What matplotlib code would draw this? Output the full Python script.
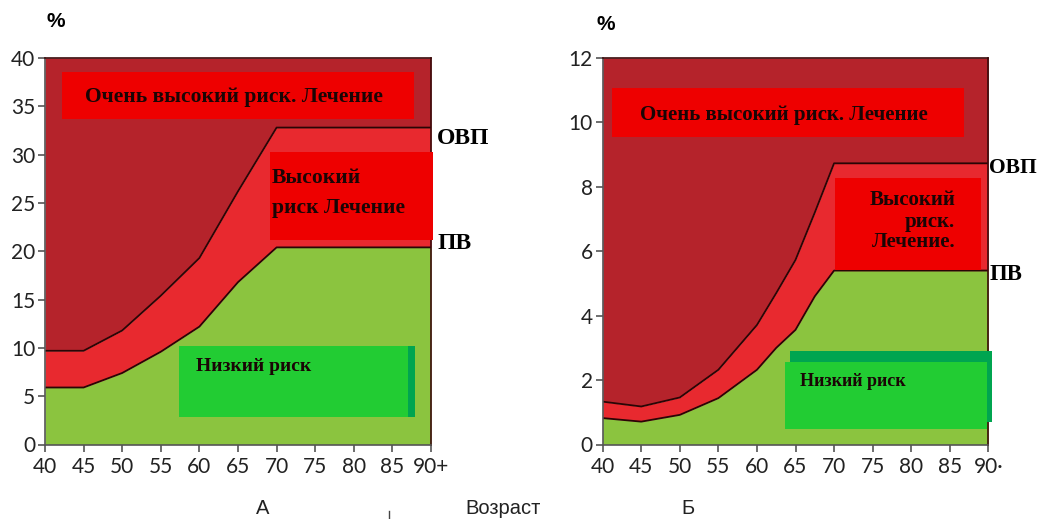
import matplotlib
matplotlib.use("Agg")
import matplotlib.pyplot as plt
from matplotlib.patches import Rectangle
from matplotlib.lines import Line2D

# age grid and risk thresholds (%)
ages_a = [40, 45, 50, 55, 60, 65, 70, 75, 80, 85, 90]
ovp_a = [9.7, 9.7, 11.8, 15.4, 19.3, 26.2, 32.8, 32.8, 32.8, 32.8, 32.8]
pv_a = [5.9, 5.9, 7.4, 9.6, 12.2, 16.8, 20.4, 20.4, 20.4, 20.4, 20.4]

ages_b = [40, 45, 50, 55, 60, 62.5, 65, 67.5, 70, 75, 80, 85, 90]
ovp_b = [1.33, 1.18, 1.46, 2.32, 3.71, 4.7, 5.73, 7.2, 8.73, 8.73, 8.73, 8.73, 8.73]
pv_b = [0.82, 0.71, 0.92, 1.44, 2.32, 3.0, 3.56, 4.6, 5.4, 5.4, 5.4, 5.4, 5.4]

xticks = [40, 45, 50, 55, 60, 65, 70, 75, 80, 85, 90]
xlabels_a = ["40", "45", "50", "55", "60", "65", "70", "75", "80", "85", "90+"]
xlabels_b = ["40", "45", "50", "55", "60", "65", "70", "75", "80", "85", "90·"]

DARK_RED = "#B5232B"
MID_RED = "#E8292F"
BOX_RED = "#EE0000"
FIELD_GREEN = "#8BC43F"
BOX_GREEN = "#22CC33"
EDGE_GREEN = "#00A550"
TXT = "#1a0505"
SERIF = ["Liberation Serif", "DejaVu Serif"]
SANS = ["Lato", "DejaVu Sans"]
ARIAL = ["Liberation Sans", "DejaVu Sans"]


def draw_zones(ax, ages, ovp, pv, ymax):
    ax.fill_between(ages, 0, pv, color=FIELD_GREEN, lw=0)
    ax.fill_between(ages, pv, ovp, color=MID_RED, lw=0)
    ax.fill_between(ages, ovp, ymax, color=DARK_RED, lw=0)
    ax.plot(ages, ovp, color="#2a0505", lw=1.3)
    ax.plot(ages, pv, color="#2a0505", lw=1.3)
    ax.set_xlim(40, 90)
    ax.set_ylim(0, ymax)
    for s in ("left", "bottom"):
        ax.spines[s].set_color("#555555")
        ax.spines[s].set_linewidth(1.2)
    for s in ("top", "right"):
        ax.spines[s].set_color("#3a0a0a")
        ax.spines[s].set_linewidth(1.2)
    ax.tick_params(direction="out", length=5, width=1.2, color="#555555",
                   labelsize=15, labelcolor="#222222")
    ax.tick_params(axis="x", pad=4)
    ax.tick_params(axis="y", pad=2)


def set_tick_font(ax):
    for lab in ax.get_xticklabels() + ax.get_yticklabels():
        lab.set_family(SANS)


def box(ax, x0, y0, x1, y1, color):
    ax.add_patch(Rectangle((x0, y0), x1 - x0, y1 - y0, facecolor=color,
                           edgecolor="none", clip_on=False, zorder=3))


fig = plt.figure(figsize=(10.39, 5.19), dpi=100)
ax_a = fig.add_axes([45 / 1039, 1 - 444.5 / 519, 386 / 1039, 386.5 / 519])
ax_b = fig.add_axes([602.7 / 1039, 1 - 444.5 / 519, 385.6 / 1039, 386.5 / 519])

# --- panel A ---
draw_zones(ax_a, ages_a, ovp_a, pv_a, 40)
ax_a.set_xticks(xticks, xlabels_a)
ax_a.set_yticks(range(0, 41, 5))
set_tick_font(ax_a)

box(ax_a, 42.2, 33.7, 87.8, 38.6, BOX_RED)
ax_a.text(64.5, 36.0, "Очень высокий риск. Лечение", ha="center", va="center",
          family=SERIF, weight="bold", fontsize=15.5, color=TXT, zorder=4)
box(ax_a, 69.1, 21.2, 90.2, 30.3, BOX_RED)
ax_a.text(69.4, 27.6, "Высокий", ha="left", va="center", family=SERIF,
          weight="bold", fontsize=15.5, color=TXT, zorder=4)
ax_a.text(69.4, 24.5, "риск Лечение", ha="left", va="center", family=SERIF,
          weight="bold", fontsize=15.5, color=TXT, zorder=4)
box(ax_a, 57.4, 2.8, 87.9, 10.2, BOX_GREEN)
box(ax_a, 87.0, 2.8, 87.9, 10.2, EDGE_GREEN)
ax_a.text(59.6, 8.05, "Низкий риск", ha="left", va="center", family=SERIF,
          weight="bold", fontsize=14, color=TXT, zorder=4)
ax_a.text(90.8, 31.7, "ОВП", ha="left", va="center", family=SERIF,
          weight="bold", fontsize=17, color="black", clip_on=False)
ax_a.text(90.8, 20.8, "ПВ", ha="left", va="center", family=SERIF,
          weight="bold", fontsize=17, color="black", clip_on=False)

# --- panel B ---
draw_zones(ax_b, ages_b, ovp_b, pv_b, 12)
ax_b.set_xticks(xticks, xlabels_b)
ax_b.set_yticks(range(0, 13, 2))
set_tick_font(ax_b)

box(ax_b, 41.2, 9.55, 86.8, 11.07, BOX_RED)
ax_b.text(63.5, 10.23, "Очень высокий риск. Лечение", ha="center", va="center",
          family=SERIF, weight="bold", fontsize=15, color=TXT, zorder=4)
box(ax_b, 70.1, 5.42, 89.05, 8.28, BOX_RED)
for y, line in zip([7.6, 6.91, 6.29], ["Высокий", "риск.", "Лечение."]):
    ax_b.text(85.7, y, line, ha="right", va="center", family=SERIF,
              weight="bold", fontsize=15, color=TXT, zorder=4)
box(ax_b, 64.3, 2.57, 90.5, 2.91, EDGE_GREEN)
box(ax_b, 89.8, 0.70, 90.5, 2.91, EDGE_GREEN)
box(ax_b, 63.6, 0.49, 89.8, 2.57, BOX_GREEN)
ax_b.text(65.6, 1.95, "Низкий риск", ha="left", va="center", family=SERIF,
          weight="bold", fontsize=13, color=TXT, zorder=4)
ax_b.text(90.15, 8.59, "ОВП", ha="left", va="center", family=SERIF,
          weight="bold", fontsize=15.5, color="black", clip_on=False)
ax_b.text(90.15, 5.27, "ПВ", ha="left", va="center", family=SERIF,
          weight="bold", fontsize=16.5, color="black", clip_on=False)

# --- figure-level labels ---
fig.text(56 / 1039, 1 - 22 / 519, "%", ha="center", va="center",
         family=ARIAL, weight="bold", fontsize=15)
fig.text(606 / 1039, 1 - 25 / 519, "%", ha="center", va="center",
         family=ARIAL, weight="bold", fontsize=15)
fig.text(263 / 1039, 1 - 508 / 519, "А", ha="center", va="center",
         family=ARIAL, fontsize=14.5, color="#222222")
fig.text(503 / 1039, 1 - 508 / 519, "Возраст", ha="center", va="center",
         family=ARIAL, fontsize=14.5, color="#222222")
fig.text(688 / 1039, 1 - 508 / 519, "Б", ha="center", va="center",
         family=ARIAL, fontsize=14.5, color="#222222")
fig.add_artist(Line2D([389 / 1039, 389 / 1039], [0, 8 / 519],
                      color="#444444", lw=1, transform=fig.transFigure))

fig.savefig("out.png", dpi=100)
